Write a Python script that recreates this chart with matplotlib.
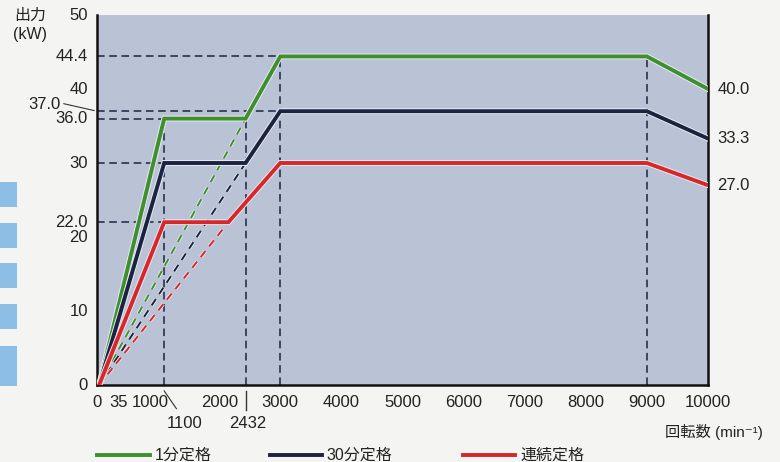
import matplotlib
matplotlib.use("Agg")
import matplotlib.pyplot as plt
import matplotlib.patheffects as pe
from matplotlib.patches import Rectangle
from matplotlib.lines import Line2D

plt.rcParams['font.family'] = ['Liberation Sans', 'Noto Sans CJK JP', 'DejaVu Sans']

# ---- data ----
series_names = ["1分定格", "30分定格", "連続定格"]
series_colors = ["#3f8f2f", "#1c2340", "#d8262a"]
rpm_green = [35, 1100, 2432, 3000, 9000, 10000]
kw_green = [0, 36.0, 36.0, 44.4, 44.4, 40.0]
rpm_navy = [35, 1100, 2432, 3000, 9000, 10000]
kw_navy = [0, 30.0, 30.0, 37.0, 37.0, 33.3]
rpm_red = [35, 1100, 2150, 3000, 9000, 10000]
kw_red = [0, 22.0, 22.0, 30.0, 30.0, 27.0]
# constant-torque extension (dashed) lines: start -> corner
dash_green = ([35, 2432], [0, 36.0])
dash_navy = ([35, 2432], [0, 30.0])
dash_red = ([35, 2150], [0, 22.0])

y_ticks = [0, 10, 20, 22.0, 30, 36.0, 40, 44.4, 50]
y_tick_labels = ["0", "10", "20", "22.0", "30", "36.0", "40", "44.4", "50"]
x_ticks = [1000, 2000, 3000, 4000, 5000, 6000, 7000, 8000, 9000, 10000]
right_labels = ["40.0", "33.3", "27.0"]

fig = plt.figure(figsize=(7.8, 4.62), dpi=100, facecolor="#f4f4f3")
ax = fig.add_axes([97 / 780, 1 - 385 / 462, (708 - 97) / 780, (385 - 15) / 462])
ax.set_xlim(0, 10000)
ax.set_ylim(0, 50)
ax.set_facecolor("#b9c3d5")

for s in ["left", "bottom", "right"]:
    ax.spines[s].set_linewidth(1.8)
    ax.spines[s].set_color("#111111")
ax.spines["top"].set_visible(False)
ax.tick_params(length=0)
ax.set_xticks([])
ax.set_yticks([])

guide = dict(color="#1c2340", lw=1.1, ls=(0, (5, 3)), zorder=2)
# horizontal guides
ax.plot([0, 3000], [44.4, 44.4], **guide)
ax.plot([0, 3000], [37.0, 37.0], **guide)
ax.plot([0, 1100], [36.0, 36.0], **guide)
ax.plot([0, 1100], [30.0, 30.0], **guide)
ax.plot([0, 1100], [22.0, 22.0], **guide)
# vertical guides
ax.plot([1100, 1100], [0, 36.0], **guide)
ax.plot([2432, 2432], [0, 36.0], **guide)
ax.plot([3000, 3000], [0, 44.4], **guide)
ax.plot([9000, 9000], [0, 44.4], **guide)

halo = [pe.Stroke(linewidth=4.2, foreground="#e6ecf2"), pe.Normal()]
halo_d = [pe.Stroke(linewidth=2.6, foreground="#e6ecf2"), pe.Normal()]
for (dx, dy), c in zip([dash_green, dash_navy, dash_red], series_colors):
    ax.plot(dx, dy, color=c, lw=1.4, ls=(0, (4, 3)), zorder=3, path_effects=halo_d)
for xs, ys, c in zip([rpm_green, rpm_navy, rpm_red], [kw_green, kw_navy, kw_red], series_colors):
    ax.plot(xs, ys, color=c, lw=2.8, zorder=4, solid_joinstyle="miter", path_effects=halo)

fs = 12
tc = "#222222"
# y tick labels
for v, t in zip(y_ticks, y_tick_labels):
    ax.text(-150, v, t, ha="right", va="center", fontsize=fs, color=tc, clip_on=False)
ax.text(-600, 37.9, "37.0", ha="right", va="center", fontsize=fs, color=tc, clip_on=False)
ax.annotate("", xy=(0, 37.0), xytext=(-590, 38.1),
            arrowprops=dict(arrowstyle="-", lw=0.8, color="#333333"), annotation_clip=False)

# x tick labels
ax.text(0, -1.4, "0", ha="center", va="top", fontsize=fs, color=tc, clip_on=False)
ax.text(360, -1.4, "35", ha="center", va="top", fontsize=fs, color=tc, clip_on=False)
for v in x_ticks:
    off = -130 if v == 1000 else 0
    ax.text(v + off, -1.4, f"{v}", ha="center", va="top", fontsize=fs, color=tc, clip_on=False)
ax.text(1430, -4.2, "1100", ha="center", va="top", fontsize=fs, color=tc, clip_on=False)
ax.text(2470, -4.2, "2432", ha="center", va="top", fontsize=fs, color=tc, clip_on=False)
ax.plot([1100, 1300], [-0.8, -3.2], color="#333333", lw=0.8, clip_on=False)
ax.plot([2432, 2432], [-0.8, -3.4], color="#333333", lw=1.0, clip_on=False)

# right end labels
for v, t in zip([kw_green[-1], kw_navy[-1], kw_red[-1]], right_labels):
    ax.text(10000 + 150, v, t, ha="left", va="center", fontsize=fs, color=tc, clip_on=False)

# axis titles
fig.text(30 / 780, 1 - 15 / 462, "出力", fontsize=11.5, ha="center", va="center", color=tc)
fig.text(30 / 780, 1 - 34 / 462, "(kW)", fontsize=11.5, ha="center", va="center", color=tc)
fig.text(763 / 780, 1 - 432 / 462, "回転数 (min⁻¹)", fontsize=11, ha="right", va="center", color=tc)

# legend
legend_y = 1 - 455 / 462
for (x0, x1, tx), name, c in zip([(97, 150, 155), (270, 322, 326), (463, 515, 520)], series_names, series_colors):
    fig.add_artist(Line2D([x0 / 780, x1 / 780], [legend_y, legend_y], color=c, lw=2.8))
    fig.text(tx / 780, legend_y, name, fontsize=11.5, ha="left", va="center", color=tc)

# decorative blue tabs at left edge
for y0, y1 in [(182, 207), (223, 248), (263, 288), (304, 329), (346, 386)]:
    fig.add_artist(Rectangle((0, 1 - y1 / 462), 17 / 780, (y1 - y0) / 462,
                             transform=fig.transFigure, color="#8dbfe6", lw=0))

fig.savefig("out.png", dpi=100, facecolor=fig.get_facecolor())
